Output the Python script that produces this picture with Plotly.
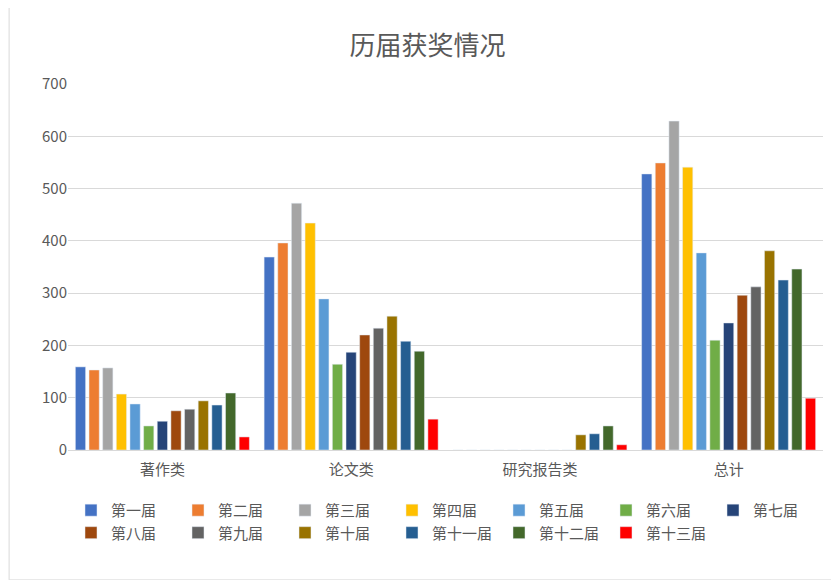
import plotly.graph_objects as go

categories = ["著作类", "论文类", "研究报告类", "总计"]
series_names = ["第一届","第二届","第三届","第四届","第五届","第六届","第七届","第八届","第九届","第十届","第十一届","第十二届","第十三届"]
values = [
    [159, 369, 0, 528],
    [153, 396, 0, 549],
    [157, 472, 0, 629],
    [107, 434, 0, 541],
    [88, 289, 0, 377],
    [46, 164, 0, 210],
    [55, 187, 0, 243],
    [75, 220, 0, 296],
    [78, 233, 0, 312],
    [94, 256, 29, 381],
    [86, 208, 31, 325],
    [109, 189, 46, 346],
    [25, 59, 10, 99],
]
colors = ["#4472C4","#ED7D31","#A5A5A5","#FFC000","#5B9BD5","#70AD47","#264478",
          "#9E480E","#636363","#997300","#255E91","#43682B","#FF0000"]

fig = go.Figure()
for n, v, c in zip(series_names, values, colors):
    fig.add_trace(go.Bar(name=n, x=categories, y=v, marker_color=c))

fig.update_layout(
    width=839, height=580,
    font=dict(family="Noto Sans CJK SC", color="#595959", size=15),
    title=dict(text="历届获奖情况", x=0.5, y=0.95, xanchor="center", font=dict(size=26, color="#595959")),
    plot_bgcolor="white", paper_bgcolor="white",
    barmode="group", bargap=0.06, bargroupgap=0.25,
    margin=dict(l=60, r=24, t=76, b=138),
    legend=dict(orientation="h", x=0.5, xanchor="center", y=-0.12, yanchor="top",
                font=dict(size=15, color="#595959"), itemwidth=30,
                entrywidth=62, traceorder="normal"),
    yaxis=dict(range=[0, 700], dtick=100, gridcolor="#D9D9D9", zeroline=False,
               tickfont=dict(size=15), ticks="", showline=False),
    xaxis=dict(showline=True, linecolor="#D9D9D9", tickfont=dict(size=15),
               ticks="outside", ticklen=6, tickcolor="white"),
    shapes=[dict(type="rect", xref="paper", yref="paper", x0=-0.078, x1=1.029, y0=-0.355, y1=1.219,
                 line=dict(color="#D9D9D9", width=1))],
)
fig.write_html("out.html")
